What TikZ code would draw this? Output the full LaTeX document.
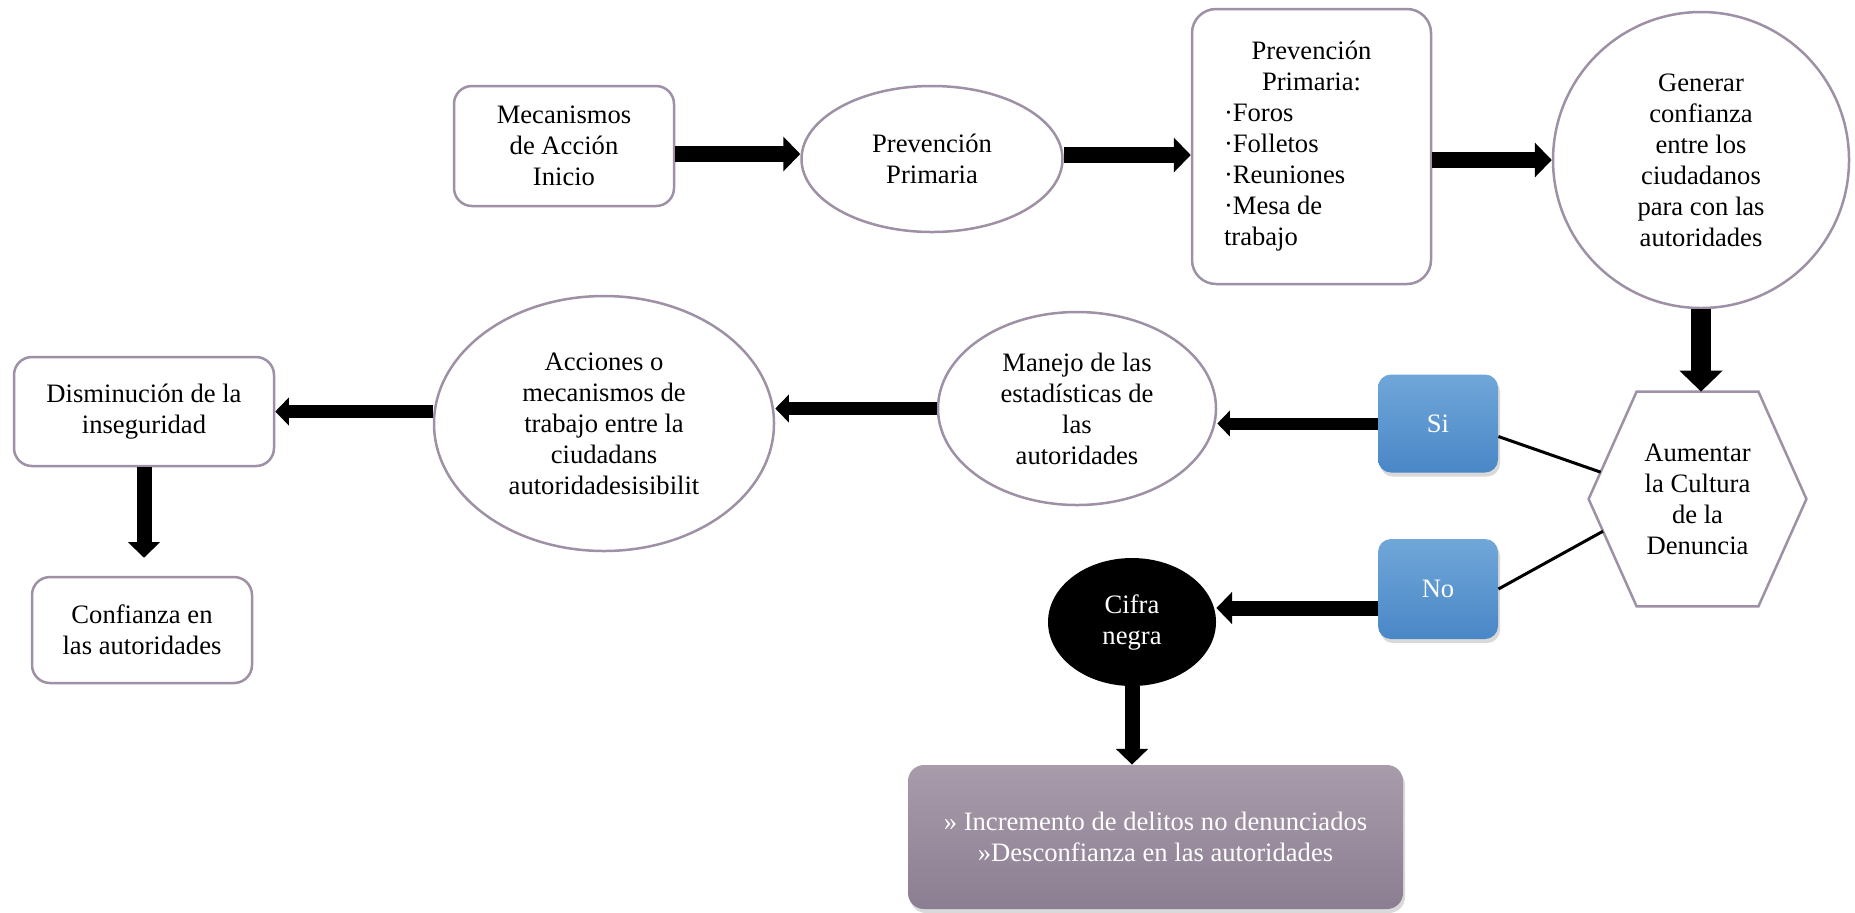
\documentclass[tikz,border=0pt]{standalone}
\usepackage{fontspec}
\setmainfont{Liberation Serif}
\usetikzlibrary{shapes.geometric, arrows.meta, shadows, calc}
\definecolor{borde}{RGB}{158,144,165}
\definecolor{azulclaro}{RGB}{112,167,217}
\definecolor{azul}{RGB}{74,135,199}
\definecolor{lilaclaro}{RGB}{168,156,171}
\definecolor{lila}{RGB}{140,126,146}
\newcommand{\letra}{\fontsize{13.3pt}{15.5pt}\selectfont}

\begin{document}
\begin{tikzpicture}
    [x=0.5pt, y=-0.5pt, font=\letra,
    caja/.style={draw=borde, line width=1.25pt, rounded corners=9pt, align=center, inner sep=0pt},
    elipse/.style={ellipse, draw=borde, line width=1.25pt, align=center, inner sep=0pt},
    opcion/.style={rounded corners=6.5pt, top color=azulclaro, bottom color=azul, text=white,
        minimum width=60pt, minimum height=49pt,
        drop shadow={opacity=0.3, shadow xshift=1pt, shadow yshift=-2pt}},
    flecha/.style={line width=#1, -{Triangle[length=0pt 1.05, width=0pt 2.1]}},
    linea/.style={line width=1.5pt}]

\useasboundingbox (0,0) rectangle (1855,912);

% fila de arriba
\node[caja, minimum width=110pt, minimum height=60pt] (mecanismos) at (564,146) {Mecanismos\\de Acción\\Inicio};
\node[elipse, minimum width=130.5pt, minimum height=73pt] (prevencion) at (932,159) {Prevención\\Primaria};
\node[caja, rounded corners=12pt, text width=87.5pt, inner xsep=16pt, align=flush left, minimum height=137.5pt] (lista) at (1311.5,146.5)
    {\makebox[87.5pt]{Prevención}\\\makebox[87.5pt]{Primaria:}\\·Foros\\·Folletos\\·Reuniones\\·Mesa de\\trabajo};
\node[circle, draw=borde, line width=1.25pt, minimum size=148pt, align=center, inner sep=0pt] (generar) at (1701,160)
    {Generar\\confianza\\entre los\\ciudadanos\\para con las\\autoridades};

% hexagono
\node[minimum width=108.5pt, minimum height=107pt, align=center, inner sep=0pt] (aumentar) at (1697.5,499)
    {Aumentar\\la Cultura\\de la\\Denuncia};
\coordinate (hexO) at (aumentar.west);
\coordinate (hexNO) at ([xshift=24pt]aumentar.north west);
\coordinate (hexNE) at ([xshift=-24pt]aumentar.north east);
\coordinate (hexE) at (aumentar.east);
\coordinate (hexSE) at ([xshift=-24pt]aumentar.south east);
\coordinate (hexSO) at ([xshift=24pt]aumentar.south west);
\draw[draw=borde, line width=1.25pt] (hexO) -- (hexNO) -- (hexNE) -- (hexE) -- (hexSE) -- (hexSO) -- cycle;
\coordinate (entradasi) at ($(hexO)!0.25!(hexNO)$);
\coordinate (entradano) at ($(hexO)!0.3!(hexSO)$);

\node[opcion] (si) at (1438,423.5) {Si};
\node[opcion, minimum height=50pt] (no) at (1438,589) {No};

% fila del medio
\node[elipse, minimum width=139pt, minimum height=96.5pt] (manejo) at (1077,408.5)
    {Manejo de las\\estadísticas de\\las\\autoridades};
\node[elipse, minimum width=170pt, minimum height=127.5pt] (acciones) at (604,423.5)
    {Acciones o\\mecanismos de\\trabajo entre la\\ciudadans\\autoridadesisibilit};
\node[caja, minimum width=130pt, minimum height=54.5pt] (disminucion) at (144,411.5) {Disminución de la\\inseguridad};
\node[caja, minimum width=110pt, minimum height=53pt] (confianza) at (142,630) {Confianza en\\las autoridades};

% rama del no
\node[ellipse, fill=black, text=white, minimum width=84pt, minimum height=64pt, align=center, inner sep=0pt] (cifra) at (1132,622)
    {Cifra\\negra};
\node[rounded corners=8pt, top color=lilaclaro, bottom color=lila, text=white, align=center,
    minimum width=247.5pt, minimum height=72pt,
    drop shadow={opacity=0.3, shadow xshift=1pt, shadow yshift=-2pt}] (consecuencias) at (1155.5,837)
    {» Incremento de delitos no denunciados\\»Desconfianza en las autoridades};

\draw[flecha=8pt] ([yshift=-4pt]mecanismos.east) -- ([yshift=-4pt]mecanismos.east -| prevencion.west);
\draw[flecha=8pt] ([yshift=2pt]prevencion.east) -- ([yshift=2pt]prevencion.east -| lista.west);
\draw[flecha=8pt] (lista.east |- generar.west) -- (generar.west);
\draw[flecha=10pt] (generar.south) -- (generar.south |- aumentar.north);
\draw[linea] ([yshift=-6.5pt]si.east) -- (entradasi);
\draw[linea] (no.east) -- (entradano);
\draw[flecha=6pt] (si.west) -- (si.west -| manejo.east);
\draw[flecha=6.5pt] (manejo.west) -- (manejo.west -| acciones.east);
\draw[flecha=6.5pt] (acciones.west |- disminucion.east) -- (disminucion.east);
\draw[flecha=7.5pt, shorten >=9pt] (disminucion.south) -- (disminucion.south |- confianza.north);
\draw[flecha=7.5pt] ([yshift=-9.5pt]no.west) -- ([yshift=-9.5pt]no.west -| cifra.east);
\draw[flecha=7.5pt] (cifra.south) -- (cifra.south |- consecuencias.north);
\end{tikzpicture}
\end{document}
